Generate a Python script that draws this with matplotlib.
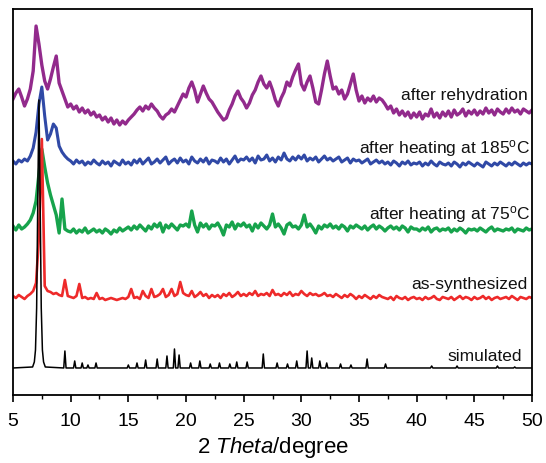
import numpy as np
import matplotlib.pyplot as plt

plt.rcParams['font.family'] = 'Liberation Sans'
plt.rcParams['mathtext.fontset'] = 'custom'
plt.rcParams['mathtext.rm'] = 'Liberation Sans'
plt.rcParams['mathtext.it'] = 'Liberation Sans:italic'

# measured patterns, 2theta = 5..50 deg in 0.25 deg steps (counts in a.u.)
rehydrated = [
    13, 19, 23, 15, 6, 13, 23, 41, 86, 68,
    47, 31, 23, 33, 45, 56, 29, 21, 13, 5,
    8, 3, 6, 0, 4, -1, 2, -3, 0, -5,
    -3, -8, -5, -10, -6, -12, -8, -13, -9, -12,
    -8, -5, -2, 2, 5, 1, 6, 3, 8, 4,
    1, -4, -7, -3, -1, 3, 0, 6, 12, 18,
    15, 24, 30, 22, 10, 18, 26, 19, 13, 10,
    5, 0, -4, -8, -6, 2, 8, 16, 21, 14,
    10, 4, 9, 17, 22, 30, 36, 28, 24, 30,
    22, 12, 6, 14, 20, 30, 26, 35, 42, 48,
    28, 22, 30, 36, 24, 10, 8, 22, 38, 51,
    36, 23, 25, 18, 22, 13, 18, 28, 38, 22,
    11, 16, 9, 14, 11, 16, 10, 14, 12, 8,
    3, 6, -1, 3, -3, 1, -4, 0, -6, -1,
    -5, 0, -7, -2, -4, 3, -5, -1, -6, 0,
    -4, 1, -5, 2, -3, -1, 3, -4, 1, -2,
    2, -3, 1, -2, 4, -1, 2, -3, 3, 0,
    -2, 3, -1, 4, 0, 2, -2, 3, 1, -1,
    2,
]
heated_185 = [
    1, -2, 2, 0, 3, 1, 6, 14, 30, 58,
    75, 46, 22, 28, 38, 34, 16, 10, 6, 3,
    1, -2, 2, -1, 1, -3, 0, -2, 2, -1,
    -3, 1, -2, 0, -4, 1, -1, -3, 2, -2,
    0, -3, 2, -1, 3, -2, 1, 4, -2, 0,
    3, -1, 2, 5, -2, 1, 3, -1, 4, 0,
    2, -2, 5, 1, -1, 3, 0, 4, -2, 2,
    1, -1, 4, 0, 3, -2, 2, 6, 0, 3,
    2, 5, 1, 4, -1, 6, 2, 3, 7, 1,
    4, 0, 5, 2, 9, 3, 1, 5, 2, 6,
    3, 7, 1, 4, 2, 5, 0, 3, 6, 2,
    4, 1, 3, 5, 0, 2, 4, -1, 3, 1,
    2, -1, 1, 3, -2, 0, 2, -1, 1, -2,
    0, -3, 1, -1, -4, 0, -2, 1, -3, -1,
    -2, 0, -4, -1, -3, 1, -2, -4, 0, -2,
    -3, -1, -4, 0, -2, -5, -1, -3, 0, -2,
    -4, -1, -3, -5, 0, -2, -4, -1, -3, 0,
    -2, -4, -1, -3, 0, -2, -4, -1, -3, -1,
    -2,
]
heated_75 = [
    3, -1, 4, 0, 2, 5, 9, 16, 28, 55,
    80, 62, 46, 34, 24, 14, -4, 30, 0, -2,
    -3, 0, -4, -1, -3, 1, -4, -2, 0, -3,
    -1, -4, 0, -2, -5, -1, -3, 1, -2, 0,
    2, -1, 3, 0, 4, 1, -2, 3, 0, 5,
    2, 6, -3, 4, 1, 5, 2, -1, 4, 3,
    5, 2, 18, 4, -3, 6, 2, 5, 0, 4,
    3, 6, 1, -6, 4, 2, 7, 0, 5, 3,
    6, 2, 4, -2, 5, 1, 6, 3, 0, 4,
    15, 2, 5, 1, -5, 4, 6, 2, 3, 0,
    4, 14, 2, 5, 1, -4, 3, 0, 4, 2,
    5, 1, 3, 0, 4, 2, -2, 3, 1, 4,
    2, 0, 3, -1, 2, 4, 0, 3, 1, -2,
    1, 3, 0, 2, -1, 3, 1, -3, 2, 0,
    0, -2, 1, -1, 2, -3, 0, 1, -2, 0,
    -1, 1, -3, 0, -2, 1, -1, -4, 0, -1,
    0, -2, 1, -1, -3, 0, 2, -2, 0, -1,
    -2, 0, -1, 1, -3, 0, -1, -2, 1, -1,
    0,
]
as_synthesized = [
    1, -1, 2, 0, -2, 1, 3, 6, 14, 60,
    158, 11, 6, 5, 3, 4, 2, 1, 17, 1,
    0, -1, 1, 13, -1, 0, -2, -1, -2, 4,
    -2, -1, -3, -2, -1, -2, -3, -2, -1, -2,
    0, 8, -1, 0, -2, 6, 1, -1, 8, 0,
    1, 3, 8, 0, 2, 8, 1, 3, 15, 4,
    2, 1, 6, 0, 2, 5, 1, 3, -1, 2,
    0, 2, -1, 3, 1, 4, 0, 2, 5, 1,
    3, 1, 4, 2, 6, 1, 3, 2, 4, 1,
    7, 2, 3, 1, 4, 2, 5, 1, 3, 2,
    6, 3, 1, 4, 2, 3, 1, 2, 4, 1,
    2, 0, 3, 1, -1, 2, 0, 3, 1, -2,
    1, -1, 2, 0, -2, 1, -1, 2, 0, -1,
    -2, 0, -3, 1, -1, -2, 0, -3, -1, 0,
    -2, -1, -3, 0, -2, -1, 1, -2, -3, 0,
    -1, -2, 0, -3, -1, 1, -2, 0, -1, -3,
    0, -2, -1, 1, -2, 0, -3, -1, 0, -2,
    -1, 0, -2, 1, -1, -3, 0, -1, -2, 0,
    -1,
]

# simulated pattern: main reflection profile + weaker reflections
sim_main_2theta = [6.7, 6.85, 6.95, 7.05, 7.15, 7.25, 7.35, 7.45, 7.55, 7.65, 7.8]
sim_main_counts = [1, 6, 18, 60, 170, 268, 170, 60, 18, 6, 1]
sim_peaks = [9.5, 10.35, 11.0, 11.5, 12.2, 15.0, 15.75, 16.5, 17.5, 18.35,
             19.0, 19.4, 20.4, 21.2, 22.1, 22.9, 23.8, 24.4, 25.3, 26.7,
             27.9, 28.8, 29.6, 30.5, 30.9, 31.6, 32.2, 33.4, 34.3, 35.7,
             37.3, 41.3, 43.5, 47.0, 48.5]
sim_heights = [17, 7, 5, 3, 5, 3, 5, 8, 9, 12,
               19, 13, 5, 7, 4, 5, 4, 6, 6, 14,
               5, 4, 7, 17, 10, 7, 5, 4, 3, 9,
               4, 2, 2, 2, 1]

labels = ["after rehydration", r"after heating at 185$^{\rm o}$C",
          r"after heating at 75$^{\rm o}$C", "as-synthesized", "simulated"]
colors = ["#922A8C", "#3049A6", "#17A34C", "#EE2A2A", "black"]
widths = [2.4, 2.2, 2.4, 1.9]
offsets = [287, 237, 170, 102, 31]

two_theta = np.linspace(5, 50, len(rehydrated))

# build the simulated stick pattern as one line
sim_x = [5.0] + sim_main_2theta
sim_y = [0] + sim_main_counts
for p, h in zip(sim_peaks, sim_heights):
    sim_x += [p - 0.1, p, p + 0.1]
    sim_y += [0, h, 0]
sim_x.append(50.0)
sim_y.append(0)

fig = plt.figure(figsize=(5.46, 4.64), dpi=100)
ax = fig.add_axes([0.0238, 0.1466, 0.9506, 0.8318])

patterns = [rehydrated, heated_185, heated_75, as_synthesized]
for data, col, lw, off in zip(patterns, colors[:4], widths, offsets[:4]):
    ax.plot(two_theta, np.array(data) + off, color=col, lw=lw)
ax.plot(sim_x, np.array(sim_y) + offsets[4], color=colors[4], lw=1.1)

# sample names on the right
label_pos = [(49.65, 305), (49.83, 252), (49.83, 185), (49.65, 115), (49.13, 43)]
for txt, (lx, ly) in zip(labels, label_pos):
    ax.text(lx, ly, txt, ha='right', va='center', fontsize=12.5, color='#111111')

ax.set_xlim(5, 50)
ax.set_ylim(4, 390)
ax.set_xticks(np.arange(5, 51, 5))
ax.set_xticks(np.arange(7.5, 50, 5), minor=True)
ax.set_yticks([])
ax.tick_params(axis='x', which='major', direction='out', length=5, width=1.2,
               labelsize=14, pad=7)
ax.tick_params(axis='x', which='minor', direction='out', length=3, width=1.0)
for s in ax.spines.values():
    s.set_linewidth(1.3)
ax.set_xlabel(r"2 $\mathit{Theta}$/degree", fontsize=16, labelpad=4)

fig.savefig("out.png", dpi=100)
